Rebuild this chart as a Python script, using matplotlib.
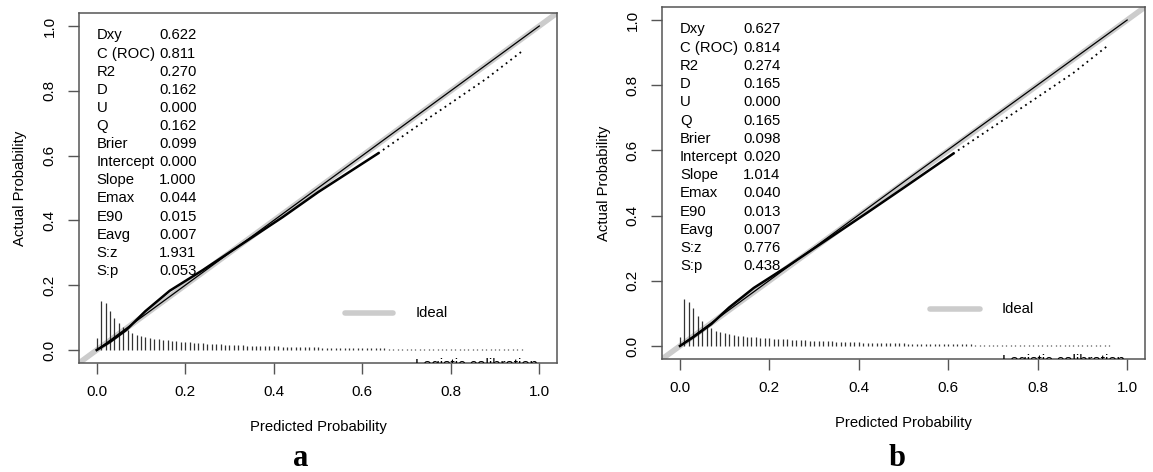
import numpy as np
import matplotlib
matplotlib.use("Agg")
import matplotlib.pyplot as plt

plt.rcParams['font.family'] = ['Liberation Sans', 'DejaVu Sans']

stat_names = ["Dxy", "C (ROC)", "R2", "D", "U", "Q", "Brier", "Intercept",
              "Slope", "Emax", "E90", "Eavg", "S:z", "S:p"]
stats_a = ["0.622", "0.811", "0.270", "0.162", "0.000", "0.162", "0.099", "0.000",
           "1.000", "0.044", "0.015", "0.007", "1.931", "0.053"]
stats_b = ["0.627", "0.814", "0.274", "0.165", "0.000", "0.165", "0.098", "0.020",
           "1.014", "0.040", "0.013", "0.007", "0.776", "0.438"]

# nonparametric curve: solid part, then dotted part
np_x_a = [0.0, 0.03, 0.067, 0.11, 0.165, 0.24, 0.316, 0.42, 0.50, 0.636]
np_y_a = [0.0, 0.025, 0.062, 0.12, 0.183, 0.247, 0.316, 0.41, 0.487, 0.607]
dot_x_a = [0.636, 0.746, 0.80, 0.88, 0.96]
dot_y_a = [0.607, 0.712, 0.762, 0.837, 0.921]

np_x_b = [0.0, 0.03, 0.07, 0.11, 0.165, 0.24, 0.32, 0.42, 0.50, 0.611]
np_y_b = [0.0, 0.027, 0.067, 0.118, 0.178, 0.244, 0.318, 0.41, 0.485, 0.59]
dot_x_b = [0.611, 0.70, 0.783, 0.88, 0.96]
dot_y_b = [0.59, 0.672, 0.748, 0.838, 0.925]

# logistic calibration line
logit_x_a = [0.0, 0.5, 1.0]
logit_y_a = [0.0, 0.5, 1.0]
logit_x_b = [0.0, 0.5, 1.0]
logit_y_b = [0.0, 0.503, 1.0]

# spike histogram of predicted probabilities (bins 0.00 .. 0.96)
spikes_a = [0.037, 0.152, 0.144, 0.121, 0.098, 0.082, 0.070, 0.062, 0.053, 0.046,
            0.043, 0.040, 0.037, 0.035, 0.033, 0.031, 0.030, 0.028, 0.027, 0.026,
            0.025, 0.024, 0.023, 0.022, 0.021, 0.020, 0.019, 0.019, 0.018, 0.017,
            0.017, 0.016, 0.015, 0.015, 0.014, 0.014, 0.013, 0.013, 0.012, 0.012,
            0.011, 0.011, 0.010, 0.010, 0.010, 0.009, 0.009, 0.009, 0.008, 0.008,
            0.008, 0.007, 0.007, 0.007, 0.007, 0.006, 0.006, 0.006, 0.006, 0.006,
            0.005, 0.005, 0.005, 0.005, 0.005, 0.005, 0.004, 0.004, 0.004, 0.004,
            0.004, 0.004, 0.004, 0.004, 0.004, 0.004, 0.004, 0.003, 0.003, 0.003,
            0.003, 0.003, 0.003, 0.003, 0.003, 0.003, 0.003, 0.003, 0.003, 0.003,
            0.003, 0.003, 0.003, 0.003, 0.003, 0.003, 0.003]
spikes_b = [0.029, 0.144, 0.136, 0.116, 0.093, 0.077, 0.065, 0.056, 0.046, 0.042,
            0.039, 0.036, 0.034, 0.032, 0.030, 0.029, 0.028, 0.026, 0.025, 0.024,
            0.023, 0.022, 0.021, 0.020, 0.020, 0.019, 0.018, 0.018, 0.017, 0.016,
            0.016, 0.015, 0.015, 0.014, 0.014, 0.013, 0.013, 0.012, 0.012, 0.011,
            0.011, 0.010, 0.010, 0.010, 0.009, 0.009, 0.009, 0.008, 0.008, 0.008,
            0.008, 0.007, 0.007, 0.007, 0.007, 0.006, 0.006, 0.006, 0.006, 0.006,
            0.005, 0.005, 0.005, 0.005, 0.005, 0.005, 0.004, 0.004, 0.004, 0.004,
            0.004, 0.004, 0.004, 0.004, 0.004, 0.004, 0.004, 0.003, 0.003, 0.003,
            0.003, 0.003, 0.003, 0.003, 0.003, 0.003, 0.003, 0.003, 0.003, 0.003,
            0.003, 0.003, 0.003, 0.003, 0.003, 0.003, 0.003]

ticks = [0.0, 0.2, 0.4, 0.6, 0.8, 1.0]


def plotCalibracao(ax, np_x, np_y, dot_x, dot_y, lx, ly, spikes, stats):
    ax.set_xlim(-0.04, 1.04)
    ax.set_ylim(-0.04, 1.04)

    # ideal line
    ax.axline((0, 0), slope=1, color='#cccccc', lw=4, zorder=1)

    # spikes
    bins = np.arange(len(spikes)) / 100
    ax.vlines(bins, 0, spikes, color='#333333', lw=0.9, zorder=2)

    ax.plot(lx, ly, color='black', lw=0.9, zorder=3)
    ax.plot(np_x, np_y, color='black', lw=1.8, zorder=4)
    ax.plot(dot_x, dot_y, color='black', lw=1.3, ls=(0, (1, 2.2)), zorder=4)

    # stats block
    y0 = 0.971
    for i in range(len(stat_names)):
        ax.text(0.0, y0 - i * 0.0559, stat_names[i], fontsize=10.7, va='center', ha='left')
        ax.text(0.141, y0 - i * 0.0559, stats[i], fontsize=10.7, va='center', ha='left')

    # legend (cut off at the bottom like the original)
    ax.plot([0.56, 0.67], [0.114, 0.114], color='#cccccc', lw=4, solid_capstyle='round')
    ax.text(0.72, 0.114, "Ideal", fontsize=10.7, va='center', ha='left')
    ax.text(0.72, -0.026, "Logistic calibration", fontsize=10.7, va='top', ha='left', clip_on=True)

    ax.set_xticks(ticks)
    ax.set_yticks(ticks)
    ax.set_xticklabels([f"{t:.1f}" for t in ticks])
    ax.set_yticklabels([f"{t:.1f}" for t in ticks], rotation=90, va='center')
    ax.tick_params(length=8, width=1, color='#555555', labelsize=11, pad=8)
    for s in ax.spines.values():
        s.set_color('#555555')
        s.set_linewidth(1.1)
    ax.set_xlabel("Predicted Probability", fontsize=10.7, labelpad=15)
    ax.set_ylabel("Actual Probability", fontsize=10.7, labelpad=11)


fig = plt.figure(figsize=(11.53, 4.72), dpi=100)
ax1 = fig.add_axes([0.0685, 0.2309, 0.4146, 0.7415])
ax2 = fig.add_axes([0.5742, 0.2394, 0.4189, 0.7458])

plotCalibracao(ax1, np_x_a, np_y_a, dot_x_a, dot_y_a, logit_x_a, logit_y_a, spikes_a, stats_a)
plotCalibracao(ax2, np_x_b, np_y_b, dot_x_b, dot_y_b, logit_x_b, logit_y_b, spikes_b, stats_b)

fig.text(0.261, 0.028, "a", fontsize=22, fontweight='bold', family='Liberation Serif',
         ha='center', va='center')
fig.text(0.778, 0.028, "b", fontsize=22, fontweight='bold', family='Liberation Serif',
         ha='center', va='center')

fig.savefig("out.png", dpi=100)
